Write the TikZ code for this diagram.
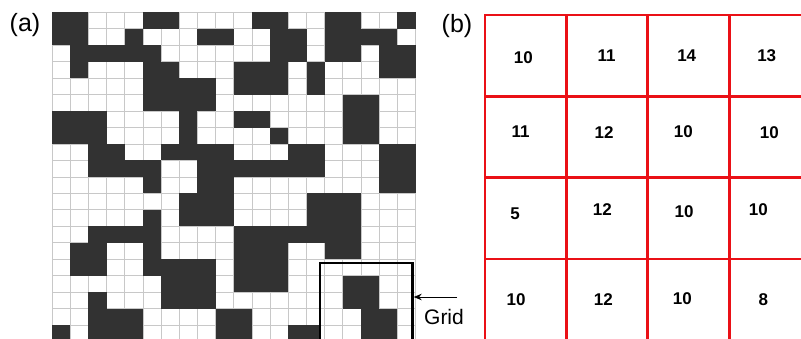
\documentclass[tikz,border=0pt]{standalone}
\usepackage{fontspec}
\setmainfont{Liberation Sans}
\usetikzlibrary{arrows.meta}
\definecolor{cellgray}{RGB}{50,50,50}
\definecolor{gridgray}{RGB}{200,200,200}
\definecolor{redgrid}{RGB}{234,16,22}
\newcommand\cellrun[3]{\fill[cellfill] ({52+18.18*#2},{12.3+16.46*#1}) rectangle ({52+18.18*(#3+1)},{12.3+16.46*(#1+1)});}
\tikzset{
  gridline/.style={draw=gridgray, line width=0.8pt},
  cellfill/.style={fill=cellgray},
  redline/.style={draw=redgrid, line width=2.7pt, line cap=rect},
  numlbl/.style={font=\fontsize{17}{19}\selectfont\bfseries, inner sep=0pt},
  panlbl/.style={font=\fontsize{25}{27}\selectfont, inner sep=0pt},
  gridbox/.style={draw=black, line width=2.7pt, inner sep=0pt, anchor=north west}
}
\begin{document}
\begin{tikzpicture}[x=1pt,y=-1pt]
\useasboundingbox (0,0) rectangle (801,338);
\clip (0,0) rectangle (801,338);
% fine grid of panel (a)
\foreach \c in {0,...,20} \draw[gridline] ({52+18.18*\c},12.3) -- ({52+18.18*\c},341.5);
\foreach \r in {0,...,20} \draw[gridline] (52,{12.3+16.46*\r}) -- (415.6,{12.3+16.46*\r});
% black cells: row/first col/last col
\foreach \r/\a/\b in {
 0/0/1, 0/5/6, 0/11/12, 0/15/16, 0/19/19,
 1/0/1, 1/4/4, 1/8/9, 1/12/13, 1/15/18,
 2/1/5, 2/12/13, 2/15/16, 2/18/19,
 3/1/1, 3/5/6, 3/10/12, 3/14/14, 3/18/19,
 4/5/8, 4/10/12, 4/14/14,
 5/5/8, 5/16/17,
 6/0/2, 6/7/7, 6/10/11, 6/16/17,
 7/0/2, 7/7/7, 7/12/12, 7/16/17,
 8/2/3, 8/6/9, 8/13/14, 8/18/19,
 9/2/5, 9/8/14, 9/18/19,
 10/5/5, 10/8/9, 10/18/19,
 11/7/9, 11/14/16,
 12/5/5, 12/7/9, 12/14/16,
 13/2/5, 13/10/16,
 14/1/2, 14/5/5, 14/10/12, 14/15/16,
 15/1/2, 15/5/8, 15/10/12,
 16/6/8, 16/10/12, 16/16/17,
 17/2/2, 17/6/8, 17/16/17,
 18/2/4, 18/9/10, 18/17/18,
 19/0/0, 19/2/4, 19/9/10, 19/13/13, 19/17/18}
 {\cellrun{\r}{\a}{\b}}
\fill[cellfill] ({52+18.18*14},{12.3+16.46*19}) rectangle (318.5,341.5);
% highlighted box and arrow
\node[gridbox, minimum width=92.5pt, minimum height=83.5pt] (box) at (318.5,261.5) {};
\coordinate (arrS) at (457,297);
\draw[line width=0.9pt, -{Stealth[length=8pt,width=6.5pt]}] (arrS) -- (arrS -| box.east);
\node[font=\fontsize{21}{23}\selectfont, inner sep=0pt] (gridlbl) at (444,317) {Grid};
% panel labels
\node[panlbl] (la) at (25,25) {(a)};
\node[panlbl] (lb) at (457,26) {(b)};
% red grid of panel (b)
\foreach \i in {0,...,4} \draw[redline] ({485+81.4*\i},15) -- ({485+81.4*\i},345);
\foreach \j in {0,...,4} \draw[redline] (485,{15+81.3*\j}) -- (812,{15+81.3*\j});
% counts
\node[numlbl] (n00) at (523.3,57.3) {10};
\node[numlbl] (n01) at (606.7,56) {11};
\node[numlbl] (n02) at (686.7,56) {14};
\node[numlbl] (n03) at (766.7,56) {13};
\node[numlbl] (n10) at (520.7,131.7) {11};
\node[numlbl] (n11) at (604,132.7) {12};
\node[numlbl] (n12) at (683.3,131.7) {10};
\node[numlbl] (n13) at (769.3,132.7) {10};
\node[numlbl] (n20) at (515,213.3) {5};
\node[numlbl] (n21) at (602.3,210) {12};
\node[numlbl] (n22) at (684,211.7) {10};
\node[numlbl] (n23) at (758.3,210) {10};
\node[numlbl] (n30) at (516,300) {10};
\node[numlbl] (n31) at (603.3,299.3) {12};
\node[numlbl] (n32) at (682.3,298.3) {10};
\node[numlbl] (n33) at (763.3,300) {8};
\end{tikzpicture}
\end{document}
